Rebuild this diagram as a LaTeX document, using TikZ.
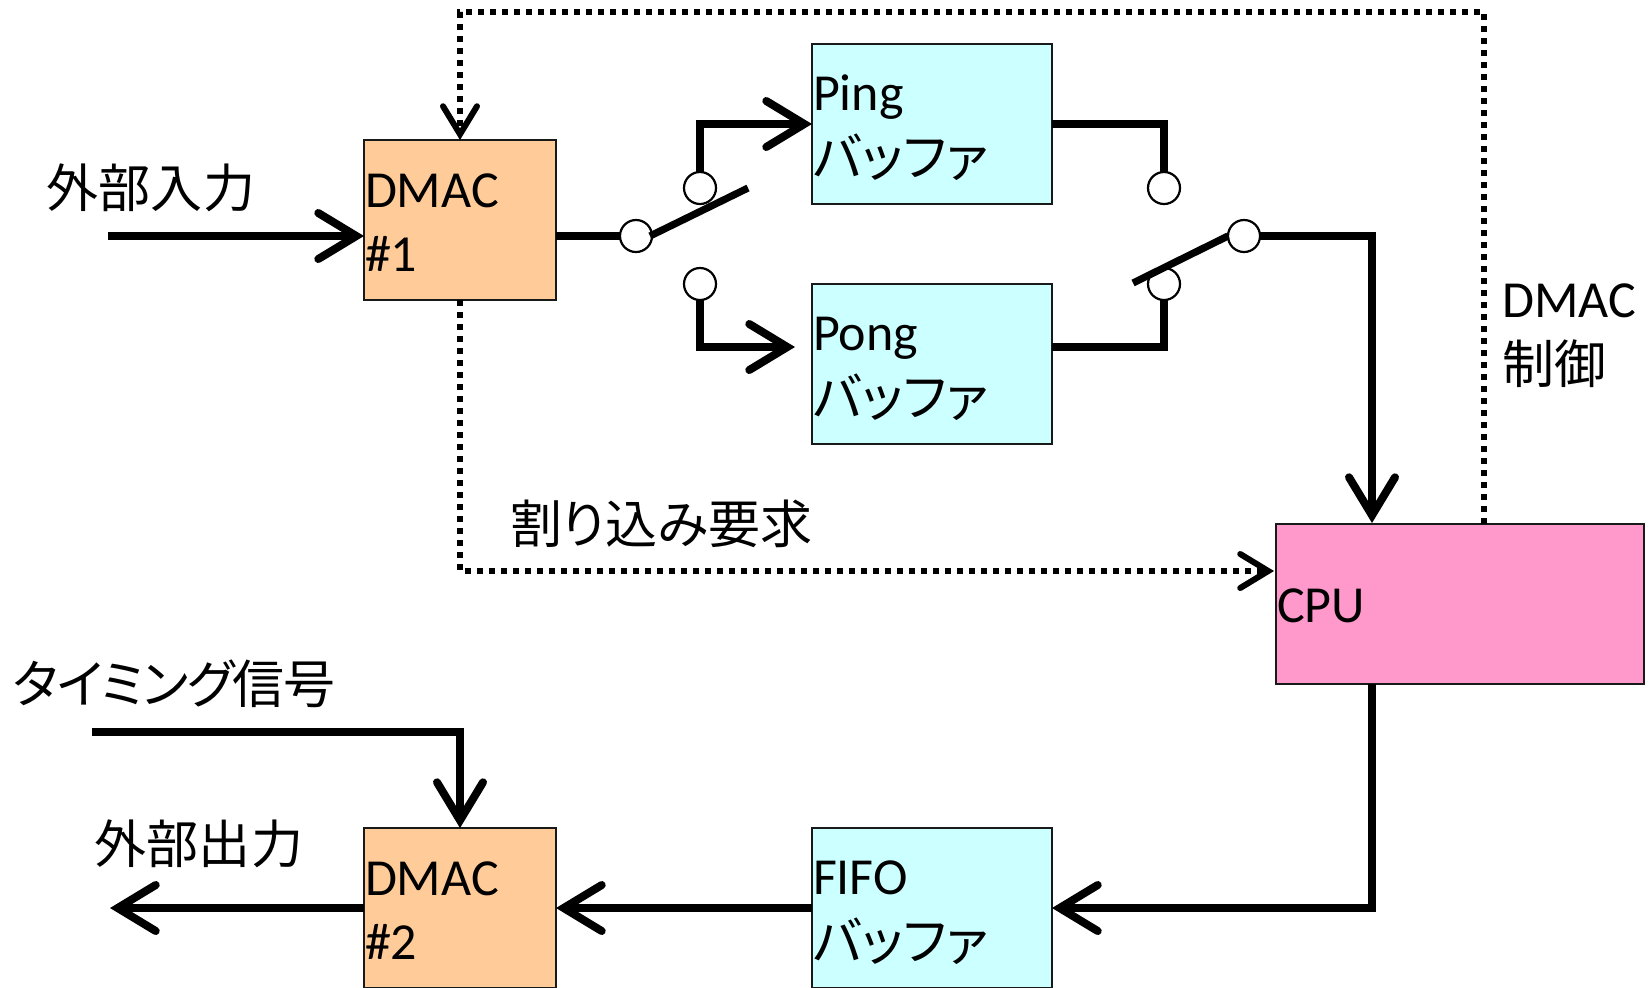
\documentclass[tikz,border=0pt]{standalone}
\usepackage{fontspec}
\setmainfont{Carlito}
\newfontfamily\jp[RawFeature=+palt]{Noto Sans CJK JP}
\usetikzlibrary{arrows.meta}
\tikzset{
  box/.style={draw=black!90,line width=1.1pt,outer sep=0pt,inner xsep=0.5pt,inner ysep=0pt,align=left,
    font=\fontsize{26}{32}\selectfont},
  dmac/.style={box,fill=dmacfill,text width=95pt,minimum height=80pt,execute at begin node={\rule{0pt}{19pt}}},
  buf/.style={box,fill=buffill,text width=119pt,minimum height=80pt,execute at begin node={\rule{0pt}{22pt}}},
  cpubox/.style={box,fill=cpufill,text width=183pt,minimum height=80pt,execute at begin node={\rule{0pt}{19pt}}},
  term/.style={circle,draw=black,line width=1.1pt,fill=white,minimum size=16pt,inner sep=0pt,outer sep=0pt},
  wire/.style={line width=4pt,line join=miter,line cap=butt},
  big/.style={wire,-{Straight Barb[length=19pt,width=23pt,line width=4pt,line cap=round,line join=miter]}},
  ctl/.style={line width=3pt,dash pattern=on 3pt off 3pt},
  ctlarrow/.style={ctl,-{Straight Barb[length=14pt,width=17pt,line width=3pt,line cap=round,line join=miter]}},
  arm/.style={line width=3.6pt},
  lbl/.style={inner sep=0pt,outer sep=0pt,anchor=west,align=left,font=\fontsize{26}{32}\selectfont},
}
\definecolor{dmacfill}{HTML}{FFCC99}
\definecolor{buffill}{HTML}{CCFFFF}
\definecolor{cpufill}{HTML}{FF99CC}
\begin{document}
\begin{tikzpicture}[x=0.5pt,y=-0.5pt]
\useasboundingbox (0,0) rectangle (1652,987);
% boxes
\node[dmac] (d1) at (460,220) {DMAC\\\#1};
\node[buf] (ping) at (932,124) {Ping\\[1pt]{\jp バッファ}};
\node[buf] (pong) at (932,364) {Pong\\[1pt]{\jp バッファ}};
\node[buf] (fifo) at (932,908) {FIFO\\[1pt]{\jp バッファ}};
\node[dmac] (d2) at (460,908) {DMAC\\\#2};
\node[cpubox] (cpu) at (1460,604) {CPU};
% terminals
\node[term] (sw1) at (636,236) {};
\node[term] (t1a) at (700,188) {};
\node[term] (t1b) at (700,284) {};
\node[term] (t2a) at (1164,188) {};
\node[term] (t2b) at (1164,284) {};
\coordinate (arm1) at (748,188);
\coordinate (arm2) at (1133,283);
\coordinate (inS) at (108,236);
\coordinate (inE) at (364,236);
\coordinate (d1out) at (556,236);
\coordinate (pongin) at (795,347);
\coordinate (pongout) at (1052,347);
\coordinate (cpuin) at (1372,523);
\coordinate (cpuout) at (1372,684);
\coordinate (fifoin) at (1052,908);
\coordinate (timeS) at (92,732);
\coordinate (outE) at (110,908);
\coordinate (cpuctl) at (1484,524);
\coordinate (top) at (460,12);
\coordinate (irq) at (1274,571);
% wires
\draw[big] (inS) -- (inE);
\draw[wire] (d1out) -- (sw1.west);
\draw[big] (t1a.north) |- (ping.west);
\draw[big] (t1b.south) |- (pongin);
\draw[wire] (ping.east) -| (t2a.north);
\draw[wire] (pongout) -| (t2b.south);
\draw[arm] (sw1.east) ++(-2,0) -- (arm1);
\draw[big] (cpuout) |- (fifoin);
\draw[big] (fifo.west) -- (d2.east);
\draw[big] (d2.west) -- (outE);
\draw[big] (timeS) -| (d2.north);
\node[term] (sw2) at (1244,236) {};
\draw[arm] (sw2.west) -- (arm2);
\draw[big] (sw2.east) -| (cpuin);
% control lines
\draw[ctlarrow] (cpuctl) |- (top) -- (d1.north);
\draw[ctlarrow] (d1.south) |- (irq);
% labels
\node[lbl] (l1) at (46,188) {\jp\addfontfeature{LetterSpace=1} 外部入力};
\node[lbl] (l2) at (510,524) {\jp 割り込み要求};
\node[lbl] (l3) at (13,684) {\jp\addfontfeature{LetterSpace=-3} タイミング信号};
\node[lbl] (l4) at (94,844) {\jp\addfontfeature{LetterSpace=1} 外部出力};
\node[lbl] (l5) at (1502,336) {DMAC\\[1pt]{\jp 制御}};
\end{tikzpicture}
\end{document}
